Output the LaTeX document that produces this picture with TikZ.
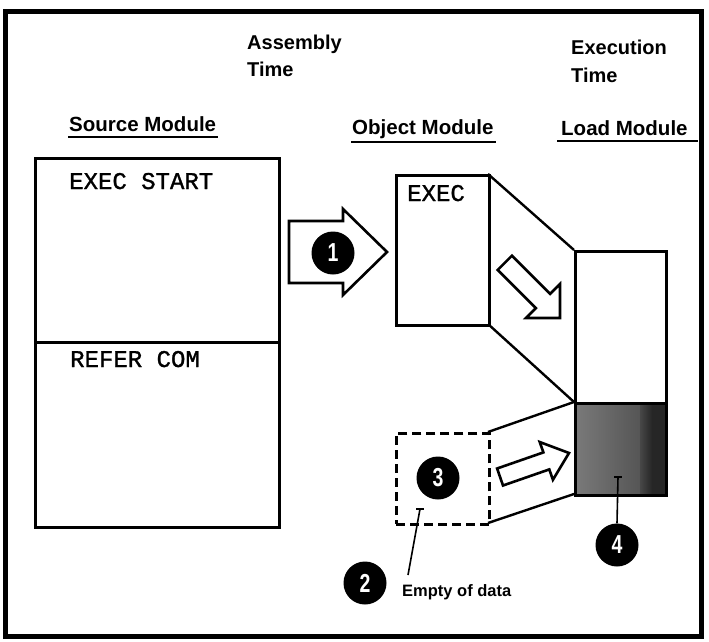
\documentclass[tikz,border=0pt]{standalone}
\usepackage{fontspec}
\setmainfont{Liberation Sans}
\newfontfamily\monofont[FakeBold=1.2]{Liberation Mono}
\begin{document}
\begin{tikzpicture}[x=1pt,y=-1pt,
  box/.style={draw, line width=2.6pt, inner sep=0pt, anchor=north west},
  hdr/.style={font=\fontsize{20}{24}\selectfont\bfseries, anchor=base west, inner sep=0pt},
  modlbl/.style={font=\fontsize{20.5}{24}\selectfont\bfseries, anchor=base west, inner sep=0pt},
  code/.style={font=\monofont\fontsize{24}{28}\selectfont, anchor=base west, inner sep=0pt},
  num/.style={circle, fill=black, minimum size=43pt, inner sep=0pt, text=white},
  hollow/.style={draw, fill=white, line width=2.6pt, line join=miter},
  uline/.style={line width=2.4pt},
  funnel/.style={line width=2.4pt},
  lead/.style={line width=1.6pt}]
\useasboundingbox (0,0) rectangle (709,642);
\newcommand{\numtxt}[1]{\scalebox{0.75}[1]{\fontsize{26}{26}\selectfont\bfseries #1}}

% frame
\draw[line width=5pt] (5,12) rectangle (701,636);

% headings
\node[hdr] (asm) at (247,50) {Assembly};
\node[hdr] (asmT) at (247,77) {Time};
\node[hdr] (exe) at (571,55) {Execution};
\node[hdr] (exeT) at (571,82) {Time};

\node[modlbl] (srcL) at (69,131) {Source Module};
\node[modlbl] (objL) at (352,134) {Object Module};
\node[modlbl] (ldL) at (561,135) {Load Module};
\coordinate (ulend) at (698,141);
\draw[uline] ([xshift=-1pt,yshift=-6pt]srcL.base west) -- ([xshift=2pt,yshift=-6pt]srcL.base east);
\draw[uline] ([xshift=-1pt,yshift=-8pt]objL.base west) -- ([xshift=2pt,yshift=-8pt]objL.base east);
\draw[uline] ([xshift=-4pt,yshift=-6pt]ldL.base west) -- (ulend);

% source module
\node[box, minimum width=244pt, minimum height=184pt] (srcA) at (34,157) {};
\node[box, minimum width=244pt, minimum height=185pt] (srcB) at (34,341) {};
\node[code] (t1) at (69,189) {EXEC START};
\node[code] (t2) at (70,367) {REFER COM};

% big arrow 1
\draw[hollow] (289,221) -- (343,221) -- (343,209) -- (387,252) -- (343,295) -- (343,283) -- (289,283) -- cycle;
\node[num] (c1) at (333,253) {\numtxt{1}};

% funnel lines
\coordinate (objNE) at (488,174);
\coordinate (objSE) at (488,324);
\draw[funnel] (objNE) -- (574,250);
\draw[funnel] (objSE) -- (574,402);
\draw[funnel] (488,432) -- (574,402);
\draw[funnel] (488,523) -- (574,494);

% object module
\node[box, minimum width=93pt, minimum height=150pt, fill=white] (obj) at (395,174) {};
\node[code] (t3) at (407,201) {EXEC};

% load module
\node[box, minimum width=91pt, minimum height=152pt, fill=white] (load) at (574,250) {};
\shade[left color=black!52, right color=black!72] (574,402) rectangle (665,494);
\shade[inner color=black!45, outer color=black!45, opacity=0] (574,402) rectangle (665,494);
\fill[black!85] (652,402) rectangle (665,494);
\shade[left color=black!72, right color=black!85] (640,402) rectangle (652,494);
\node[box, minimum width=91pt, minimum height=92pt] (loadsh) at (574,402) {};

% dashed box
\node[box, dash pattern=on 9pt off 5pt, minimum width=93pt, minimum height=91pt] (dbox) at (395,432) {};
\node[num] (c3) at (438,478) {\numtxt{3}};

% hollow arrow 2 (diagonal)
\draw[hollow] (511.9,255.7) -- (550.1,293.9) -- (560,284) -- (560,318) -- (526,318) -- (535.9,308.1) -- (497.7,269.9) -- cycle;
% hollow arrow 3
\draw[hollow] (497.1,468.5) -- (543.4,452.4) -- (539.7,442.0) -- (569,453) -- (552.9,479.8) -- (549.3,469.4) -- (503.0,485.5) -- cycle;

% callout 4
\node[num] (c4) at (617,545) {\numtxt{4}};
\coordinate (t4) at (618,477);
\draw[line width=2.5pt] (614,477) -- (622,477);
\draw[lead] (t4) -- (c4.north);

% callout 2
\node[num] (c2) at (365,583) {\numtxt{2}};
\coordinate (tk2) at (420,509);
\coordinate (e2) at (408,575);
\draw[line width=1.8pt] (416,509) -- (424,509);
\draw[lead] (tk2) -- (e2);
\node[font=\fontsize{16.5}{20}\selectfont\bfseries, anchor=base west, inner sep=0pt] (empty) at (402,596) {Empty of data};
\end{tikzpicture}
\end{document}
